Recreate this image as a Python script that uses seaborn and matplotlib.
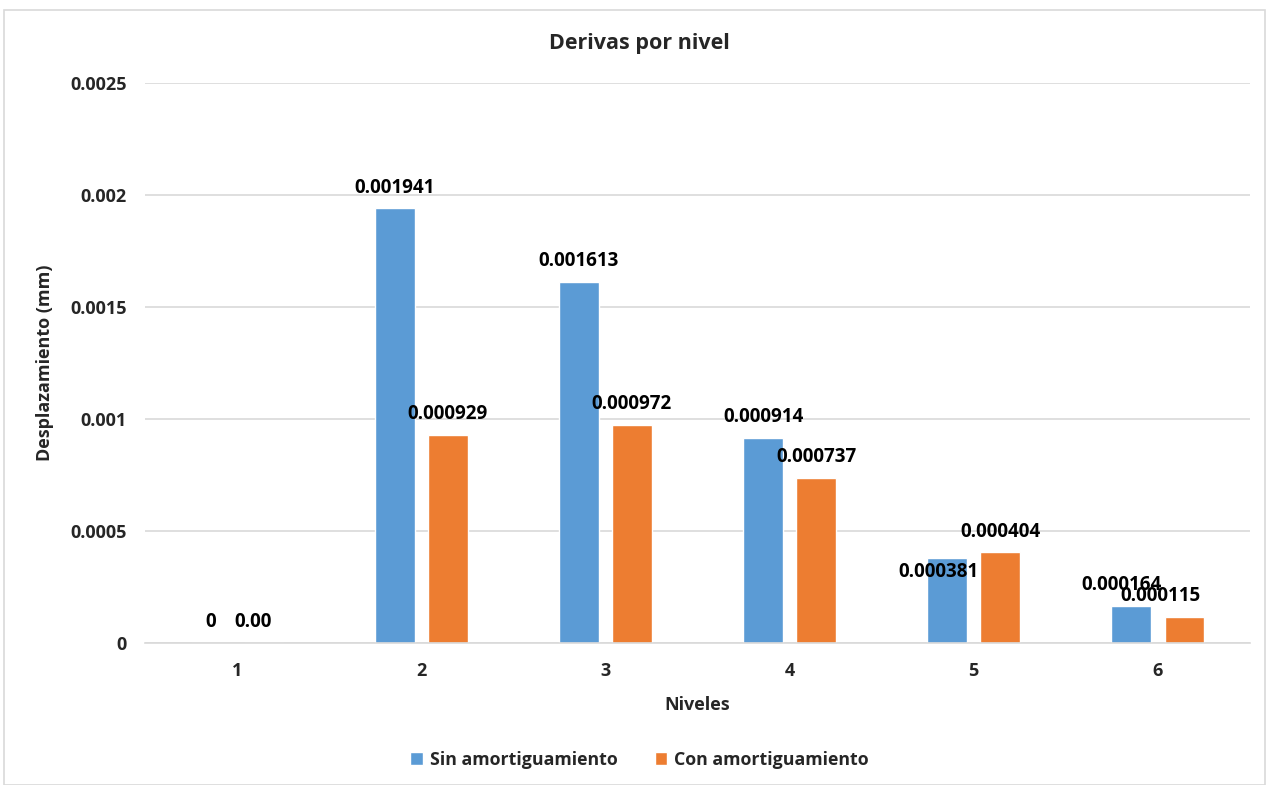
import matplotlib
matplotlib.use("Agg")
import matplotlib.pyplot as plt
import seaborn as sns
import pandas as pd
from matplotlib.patches import Rectangle

niveles = ["1", "2", "3", "4", "5", "6"]
sin_amort = [0.0, 0.001941, 0.001613, 0.000914, 0.000381, 0.000164]
con_amort = [0.0, 0.000929, 0.000972, 0.000737, 0.000404, 0.000115]
sin_labels = ["0", "0.001941", "0.001613", "0.000914", "0.000381", "0.000164"]
con_labels = ["0.00", "0.000929", "0.000972", "0.000737", "0.000404", "0.000115"]
series = ["Sin amortiguamiento", "Con amortiguamiento"]
yticks = [0, 0.0005, 0.001, 0.0015, 0.002, 0.0025]
ytick_labels = ["0", "0.0005", "0.001", "0.0015", "0.002", "0.0025"]

# label offsets in points (dx, dy) relative to bar top-center
sin_offsets = [(0, 15), (0, 15), (0, 15), (0, 15), (-6, -10), (-7, 15)]
con_offsets = [(-8, 15), (0, 15), (0, 15), (0, 15), (0, 15), (-17, 15)]

df = pd.DataFrame({
    "Nivel": niveles * 2,
    "Valor": sin_amort + con_amort,
    "Serie": [series[0]] * 6 + [series[1]] * 6,
})

sns.set_theme(style="white")
plt.rcParams["font.family"] = ["Open Sans", "DejaVu Sans"]

fig = plt.figure(figsize=(12.69, 7.85), dpi=100)
ax = fig.add_axes([0.1143, 0.181, 0.8707, 0.713])

colors = ["#5B9BD5", "#ED7D31"]
sns.barplot(data=df, x="Nivel", y="Valor", hue="Serie", palette=colors,
            width=0.577, gap=0.25, ax=ax, legend=True, saturation=1)

ax.set_ylim(0, 0.0025)
ax.set_xlim(-0.5, 5.5)
ax.set_yticks(yticks)
ax.set_yticklabels(ytick_labels, fontsize=13, fontweight="bold")
ax.tick_params(axis="x", labelsize=13, length=0, pad=14)
for t in ax.get_xticklabels():
    t.set_fontweight("bold")
ax.tick_params(axis="y", length=0, pad=13)
ax.grid(axis="y", color="#D9D9D9", linewidth=1.2)
ax.set_axisbelow(True)
for s in ["top", "right", "left"]:
    ax.spines[s].set_visible(False)
ax.spines["bottom"].set_color("#D9D9D9")
ax.spines["bottom"].set_linewidth(1.2)

ax.set_xlabel("Niveles", fontsize=13, fontweight="bold", labelpad=11)
ax.set_ylabel("Desplazamiento (mm)", fontsize=13, fontweight="bold", labelpad=12)
fig.text(0.504, 0.945, "Derivas por nivel", fontsize=15.5, fontweight="bold",
         ha="center", va="center")

containers = ax.containers
for cont, labels, offs in [(containers[0], sin_labels, sin_offsets),
                           (containers[1], con_labels, con_offsets)]:
    for bar, lab, (dx, dy) in zip(cont, labels, offs):
        xc = bar.get_x() + bar.get_width() / 2
        yt = bar.get_height()
        ax.annotate(lab, (xc, yt), xytext=(dx, dy), textcoords="offset points",
                    ha="center", va="center", fontsize=13.5, fontweight="bold",
                    color="#000000")

handles, labels = ax.get_legend_handles_labels()
ax.get_legend().remove()
leg = fig.legend(handles, labels, loc="center", bbox_to_anchor=(0.504, 0.032), ncol=2,
                 frameon=False, fontsize=12.8, handlelength=0.7, handleheight=0.7,
                 columnspacing=2.1, handletextpad=0.4)
for t in leg.get_texts():
    t.set_fontweight("bold")

fig.patches.append(Rectangle((0.003, 0.0), 0.994, 0.987, transform=fig.transFigure,
                             fill=False, edgecolor="#D9D9D9", linewidth=1.2))

fig.savefig("out.png", dpi=100)
